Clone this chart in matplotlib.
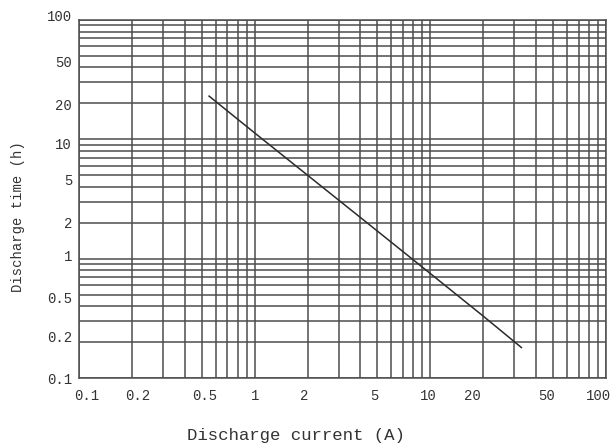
import matplotlib.pyplot as plt
from matplotlib.ticker import FixedLocator, NullFormatter
from matplotlib.transforms import ScaledTranslation

# discharge curve (current in A, time in h)
current = [0.55, 1.0, 2.0, 5.0, 10.0, 20.0, 33.0]
hours = [23.0, 11.3, 5.0, 1.7, 0.75, 0.33, 0.18]

x_ticks = [0.1, 0.2, 0.5, 1, 2, 5, 10, 20, 50, 100]
x_labels = ["0.1", "0.2", "0.5", "1", "2", "5", "10", "20", "50", "100"]
y_ticks = [0.1, 0.2, 0.5, 1, 2, 5, 10, 20, 50, 100]
y_labels = ["0.1", "0.2", "0.5", "1", "2", "5", "10", "20", "50", "100"]

# the scanned chart has its labels slightly off the grid lines (pixels)
x_shift = [8, 6, 3, 0, -3, -3, -2, -11, -7, -8]
y_shift = [0, -6, 3, -3, 0, 4, 4, 1, 6, -4]

FONT = "Liberation Mono"
GRID = "#4d4d4d"
TEXT = "#333333"

fig = plt.figure(figsize=(6.14, 4.43), dpi=100)
ax = fig.add_axes([0.1287, 0.1467, 0.8583, 0.8083])

ax.set_xscale("log")
ax.set_yscale("log")
ax.set_xlim(0.1, 100)
ax.set_ylim(0.1, 100)

# full log grid: a line at every 1..9 of each decade
grid_vals = [m * 10.0 ** e for e in (-1, 0, 1) for m in range(1, 10)] + [100]
ax.xaxis.set_major_locator(FixedLocator(x_ticks))
ax.yaxis.set_major_locator(FixedLocator(y_ticks))
ax.xaxis.set_minor_locator(FixedLocator(grid_vals))
ax.yaxis.set_minor_locator(FixedLocator(grid_vals))
ax.xaxis.set_minor_formatter(NullFormatter())
ax.yaxis.set_minor_formatter(NullFormatter())
ax.set_xticklabels(x_labels, fontfamily=FONT, fontsize=10, color=TEXT)
ax.set_yticklabels(y_labels, fontfamily=FONT, fontsize=10, color=TEXT)
ax.tick_params(which="both", length=0)
ax.tick_params(axis="x", pad=8)
ax.tick_params(axis="y", pad=5)

for lab, dx in zip(ax.get_xticklabels(), x_shift):
    lab.set_transform(lab.get_transform() + ScaledTranslation(dx / 100, 0, fig.dpi_scale_trans))
for lab, dy in zip(ax.get_yticklabels(), y_shift):
    lab.set_transform(lab.get_transform() + ScaledTranslation(0, -dy / 100, fig.dpi_scale_trans))

ax.grid(which="both", color=GRID, linewidth=1.1)
for s in ax.spines.values():
    s.set_color(GRID)
    s.set_linewidth(1.1)

ax.plot(current, hours, color="#2b2b2b", linewidth=1.1)

ax.set_xlabel("Discharge current (A)", fontfamily=FONT, fontsize=12.5,
              color=TEXT, va="center")
ax.xaxis.set_label_coords(0.412, -0.16)
ax.set_ylabel("Discharge time (h)", fontfamily=FONT, fontsize=10,
              color=TEXT, va="center")
ax.yaxis.set_label_coords(-0.116, 0.45)

fig.savefig("out.png", dpi=100)
